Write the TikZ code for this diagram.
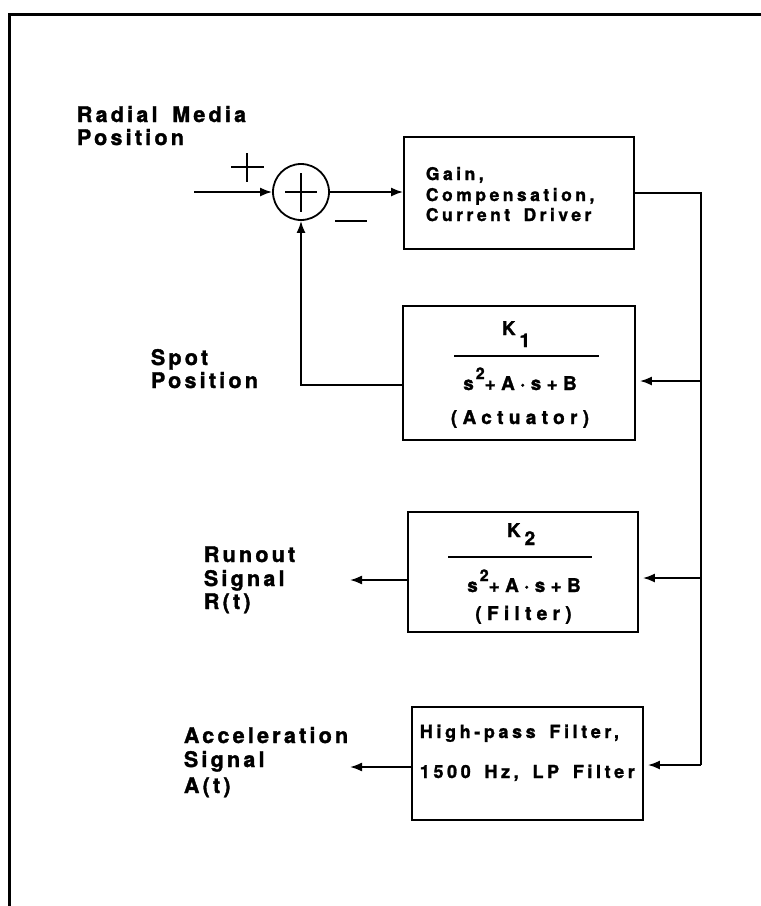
\documentclass[tikz,border=0pt]{standalone}
\usepackage{fontspec}
\newfontfamily\lblfont{TeX Gyre Heros}[LetterSpace=15,WordSpace=1.6,BoldFeatures={FakeBold=1.5}]
\newfontfamily\bxfont{TeX Gyre Heros}[LetterSpace=20,WordSpace=1.6,BoldFeatures={FakeBold=1.5}]
\newfontfamily\frfont{TeX Gyre Heros}[LetterSpace=28,WordSpace=1.6,BoldFeatures={FakeBold=1.5}]
\usetikzlibrary{arrows.meta}
\begin{document}
\begin{tikzpicture}[x=1pt,y=-1pt,
  line width=1.8pt,
  lbl/.style={anchor=base west, inner sep=0pt, font=\lblfont\bfseries\fontsize{21.5}{21.5}\selectfont},
  btxt/.style={anchor=base west, inner sep=0pt, font=\bxfont\bfseries\fontsize{17.5}{17.5}\selectfont},
  htxt/.style={anchor=base west, inner sep=0pt, font=\bxfont\bfseries\fontsize{18}{18}\selectfont},
  ftxt/.style={anchor=base, inner sep=0pt, font=\frfont\bfseries\fontsize{19}{19}\selectfont},
  blk/.style={draw, line width=1.8pt, inner sep=0pt},
  sig/.style={-{Latex[length=12pt,width=9pt]}},
  thin/.style={line width=1.6pt},
]
\useasboundingbox (0,0) rectangle (761,906);
% frame
\coordinate (fr1) at (761,14);
\coordinate (fr2) at (9,14);
\coordinate (fr3) at (9,906);
\draw[line width=3pt] (fr1) -- (fr2) -- (fr3);

% blocks
\node[blk, minimum width=230pt, minimum height=112pt] (gain) at (519,193) {};
\node[blk, minimum width=232pt, minimum height=134pt] (act) at (519,373) {};
\node[blk, minimum width=230pt, minimum height=120pt] (filt) at (523,572) {};
\node[blk, minimum width=231pt, minimum height=113pt] (hp) at (527.5,763.5) {};

% summing junction
\node[circle, draw, minimum size=56pt, inner sep=0pt] (sum) at (301,192) {};
\coordinate (cxl) at (285,192); \coordinate (cxr) at (317,192);
\coordinate (cyt) at (301,173); \coordinate (cyb) at (301,212);
\draw[thin] (cxl) -- (cxr);
\draw[thin] (cyt) -- (cyb);
% plus / minus signs
\coordinate (pl) at (231,167); \coordinate (pr) at (264,167);
\coordinate (pt) at (247,153); \coordinate (pb) at (247,182);
\draw[thin] (pl) -- (pr);
\draw[thin] (pt) -- (pb);
\coordinate (ml) at (335,221); \coordinate (mr) at (367,221);
\draw[thin] (ml) -- (mr);

% connectors
\coordinate (in) at (194,192);
\draw[sig] (in) -- (sum.west);
\draw[sig] (sum.east) -- (gain.west |- sum.east);
\coordinate (j1) at (701,381);
\coordinate (j2) at (701,578);
\coordinate (j3) at (701,765);
\draw (gain.east) -| (j3);
\draw[sig, shorten >=4pt] (j1) -- (act.east |- j1);
\draw[sig, shorten >=4pt] (j2) -- (filt.east |- j2);
\draw[sig, shorten >=4pt] (j3) -- (hp.east |- j3);
\coordinate (fb) at (301,385);
\draw[sig] (act.west |- fb) -- (fb) -- (sum.south);
\coordinate (ro) at (350,580);
\draw[sig] (filt.west |- ro) -- (ro);
\coordinate (ao) at (350,767);
\draw[sig] (hp.west |- ao) -- (ao);

% labels
\node[lbl] (rm1) at (76,122) {Radial Media};
\node[lbl] (rm2) at (76,145) {Position};
\node[lbl] (sp1) at (150,365) {Spot};
\node[lbl] (sp2) at (150,388) {Position};
\node[lbl] (rs1) at (203,562) {Runout};
\node[lbl] (rs2) at (203,586) {Signal};
\node[lbl] (rs3) at (203,609) {R(t)};
\node[lbl] (as1) at (183,743) {Acceleration};
\node[lbl] (as2) at (183,767) {Signal};
\node[lbl] (as3) at (183,793) {A(t)};

% gain text
\node[btxt] (g1) at (425,180) {Gain,};
\node[btxt] (g2) at (425,201) {Compensation,};
\node[btxt] (g3) at (425,221) {Current Driver};

% actuator
\node[ftxt] (k1) at (516,335) {K\hspace{4pt}\raisebox{-12pt}{1}};
\coordinate (b1l) at (454,356); \coordinate (b1r) at (599,356);
\draw[thin] (b1l) -- (b1r);
\node[ftxt] (d1) at (520,390) {s\hspace{2pt}\raisebox{11pt}{\fontsize{16}{16}\selectfont 2}+A·s+B};
\node[ftxt] (a1) at (520,424) {(Actuator)};

% filter
\node[ftxt] (k2) at (521,537) {K\hspace{4pt}\raisebox{-8pt}{2}};
\coordinate (b2l) at (448,557); \coordinate (b2r) at (592,557);
\draw[thin] (b2l) -- (b2r);
\node[ftxt] (d2) at (524,592) {s\hspace{2pt}\raisebox{11pt}{\fontsize{16}{16}\selectfont 2}+A·s+B};
\node[ftxt] (f2) at (523.5,620) {(Filter)};

% high-pass
\node[htxt] (h1) at (419,738) {High-pass Filter,};
\node[htxt] (h2) at (419,778) {1500 Hz, LP Filter};
\end{tikzpicture}
\end{document}
